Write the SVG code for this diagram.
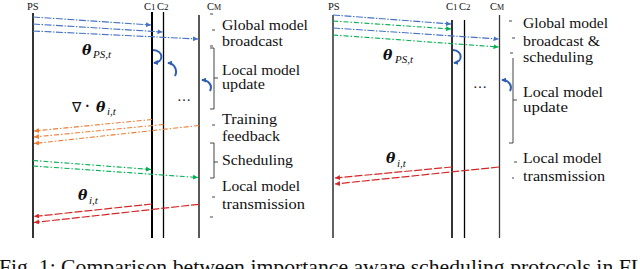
<svg xmlns="http://www.w3.org/2000/svg" width="640" height="269" viewBox="0 0 640 269">
<style>
text{font-family:"Liberation Serif","Times New Roman",serif;fill:#111}
.lbl{font-size:14px}
.hd{font-size:10.5px}
.th{font-family:"DejaVu Serif","Liberation Serif",serif;font-weight:bold;font-style:italic;font-size:14px}
.sub{font-style:italic;font-size:11px}
.life{stroke:#000;fill:none}
.lifeR{stroke:#3a3a3a;fill:none}
.tick{stroke:#444;stroke-width:1;fill:none}
.blue{stroke:#4472C4;stroke-width:1.1;fill:none;stroke-dasharray:7 1.5 1.5 1.5;marker-end:url(#mb)}
.org{stroke:#ED7D31;stroke-width:1.1;fill:none;stroke-dasharray:5 2 1.5 2;marker-end:url(#mo)}
.grn{stroke:#00B050;stroke-width:1.1;fill:none;stroke-dasharray:5 2 1.5 2;marker-end:url(#mg)}
.red{stroke:#D42828;stroke-width:1.2;fill:none;stroke-dasharray:8 2;marker-end:url(#mr)}
.loop{stroke:#2F5FB3;stroke-width:2;fill:none}
</style>
<defs>
<marker id="mb" viewBox="0 0 6 6" refX="6" refY="3" markerWidth="5" markerHeight="5" markerUnits="userSpaceOnUse" orient="auto"><path d="M0,0L6,3L0,6z" fill="#4472C4"/></marker>
<marker id="mo" viewBox="0 0 6 6" refX="6" refY="3" markerWidth="5" markerHeight="5" markerUnits="userSpaceOnUse" orient="auto"><path d="M0,0L6,3L0,6z" fill="#ED7D31"/></marker>
<marker id="mg" viewBox="0 0 6 6" refX="6" refY="3" markerWidth="5" markerHeight="5" markerUnits="userSpaceOnUse" orient="auto"><path d="M0,0L6,3L0,6z" fill="#00B050"/></marker>
<marker id="mr" viewBox="0 0 6 6" refX="6" refY="3" markerWidth="5" markerHeight="5" markerUnits="userSpaceOnUse" orient="auto"><path d="M0,0L6,3L0,6z" fill="#D42828"/></marker>
<marker id="ml" viewBox="0 0 6 6" refX="5" refY="3" markerWidth="5" markerHeight="5" markerUnits="userSpaceOnUse" orient="auto"><path d="M0,0L6,3L0,6z" fill="#2F5FB3"/></marker>
</defs>
<rect width="640" height="269" fill="#fff"/>

<!-- LEFT PANEL -->
<g id="left-PS">
<text class="hd" x="27" y="9.5">PS</text>
<line class="life" x1="33" y1="13" x2="33" y2="238" stroke-width="1.6"/>
</g>
<g id="left-C1">
<text class="hd" x="144" y="10">C<tspan font-size="9">1</tspan></text>
<line class="life" x1="152" y1="12" x2="152" y2="238" stroke-width="2"/>
</g>
<g id="left-C2">
<text class="hd" x="157" y="10">C<tspan font-size="9">2</tspan></text>
<line class="life" x1="163.5" y1="12" x2="163.5" y2="238" stroke-width="1.3"/>
</g>
<g id="left-CM">
<text class="hd" x="207" y="10">C<tspan font-size="8">M</tspan></text>
<line class="life" x1="199" y1="15" x2="199" y2="238" stroke-width="1.3"/>
<text class="lbl" x="177" y="101">…</text>
</g>
<g id="left-labels">
<path class="tick" d="M210,14h3M212,30h3M210,46h3"/>
<text class="lbl" x="222" y="30" textLength="86" lengthAdjust="spacingAndGlyphs">Global model</text>
<text class="lbl" x="222" y="46" textLength="61" lengthAdjust="spacingAndGlyphs">broadcast</text>
<path class="tick" d="M210,48h4v61h-4M214,78h4"/>
<text class="lbl" x="222" y="75" textLength="78" lengthAdjust="spacingAndGlyphs">Local model</text>
<text class="lbl" x="222" y="89" textLength="43" lengthAdjust="spacingAndGlyphs">update</text>
<path class="tick" d="M212,125h3"/>
<text class="lbl" x="222" y="124" textLength="55" lengthAdjust="spacingAndGlyphs">Training</text>
<text class="lbl" x="222" y="141" textLength="58" lengthAdjust="spacingAndGlyphs">feedback</text>
<path class="tick" d="M210,143h4v35h-4M214,162h4"/>
<text class="lbl" x="222" y="165" textLength="71" lengthAdjust="spacingAndGlyphs">Scheduling</text>
<path class="tick" d="M212,197h3M210,217h3"/>
<text class="lbl" x="222" y="191" textLength="78" lengthAdjust="spacingAndGlyphs">Local model</text>
<text class="lbl" x="222" y="209" textLength="83" lengthAdjust="spacingAndGlyphs">transmission</text>
</g>
<g id="left-math">
<text class="th" x="82" y="55">θ</text><text class="sub" x="93" y="58">PS,t</text>
<text class="lbl" x="72" y="112" font-family="DejaVu Sans, sans-serif" font-size="13">∇</text>
<text class="lbl" x="85" y="111" font-weight="bold">·</text>
<text class="th" x="96" y="112">θ</text><text class="sub" x="107" y="115">i,t</text>
<text class="th" x="78" y="200">θ</text><text class="sub" x="89" y="204">i,t</text>
</g>
<g id="left-connectors">
<line class="blue" x1="33" y1="17" x2="151" y2="25"/>
<line class="blue" x1="33" y1="24" x2="162.5" y2="32"/>
<line class="blue" x1="33" y1="31" x2="198" y2="39"/>
<path class="loop" d="M153,50C164,51 164,62 154,63" marker-end="url(#ml)"/>
<path class="loop" d="M175,76C178,70 174,63 168,63" marker-end="url(#ml)"/>
<path class="loop" d="M210,91C213,85 208,80 202,80" marker-end="url(#ml)"/>
<line class="org" x1="152" y1="119.5" x2="34" y2="131"/>
<line class="org" x1="163.5" y1="124.5" x2="34" y2="137"/>
<line class="org" x1="199" y1="125.5" x2="34" y2="143.5"/>
<line class="grn" x1="33" y1="160.5" x2="151" y2="169.5"/>
<line class="grn" x1="33" y1="166" x2="198" y2="177.5"/>
<line class="red" x1="152" y1="204" x2="34" y2="216.5"/>
<line class="red" x1="199" y1="204.3" x2="34" y2="222.5"/>
</g>

<!-- RIGHT PANEL -->
<g id="right-PS">
<text class="hd" x="328" y="10">PS</text>
<line class="lifeR" x1="333" y1="15" x2="333" y2="238" stroke-width="1.6"/>
</g>
<g id="right-C1">
<text class="hd" x="446" y="10">C<tspan font-size="9">1</tspan></text>
<line class="life" x1="452" y1="20" x2="452" y2="238" stroke-width="1.6"/>
</g>
<g id="right-C2">
<text class="hd" x="459" y="10">C<tspan font-size="9">2</tspan></text>
<line class="life" x1="464.5" y1="20" x2="464.5" y2="238" stroke-width="1.3"/>
</g>
<g id="right-CM">
<text class="hd" x="490" y="10">C<tspan font-size="8">M</tspan></text>
<line class="lifeR" x1="499.5" y1="15" x2="499.5" y2="238" stroke-width="1.3"/>
<text class="lbl" x="473" y="88">…</text>
</g>
<g id="right-labels">
<path class="tick" d="M509,21h3M512,38h3M510,53h3"/>
<text class="lbl" x="523" y="28" textLength="85" lengthAdjust="spacingAndGlyphs">Global model</text>
<text class="lbl" x="523" y="46" textLength="77" lengthAdjust="spacingAndGlyphs">broadcast &amp;</text>
<text class="lbl" x="523" y="62" textLength="70" lengthAdjust="spacingAndGlyphs">scheduling</text>
<path class="tick" d="M513,58v85h-4M513,100h4"/>
<text class="lbl" x="523" y="97" textLength="80" lengthAdjust="spacingAndGlyphs">Local model</text>
<text class="lbl" x="523" y="112" textLength="45" lengthAdjust="spacingAndGlyphs">update</text>
<path class="tick" d="M514,162h3M512,178h2"/>
<text class="lbl" x="523" y="163" textLength="79" lengthAdjust="spacingAndGlyphs">Local model</text>
<text class="lbl" x="523" y="181" textLength="82" lengthAdjust="spacingAndGlyphs">transmission</text>
</g>
<g id="right-math">
<text class="th" x="383" y="60">θ</text><text class="sub" x="395" y="63">PS,t</text>
<text class="th" x="386" y="163">θ</text><text class="sub" x="397" y="167">i,t</text>
</g>
<g id="right-connectors">
<line class="blue" x1="333" y1="15" x2="451" y2="24"/>
<line class="grn" x1="333" y1="21" x2="451" y2="29"/>
<line class="blue" x1="333" y1="28" x2="498.5" y2="39"/>
<line class="grn" x1="333" y1="35" x2="498.5" y2="47"/>
<path class="loop" d="M453,50C463,51 463,62 454,63" marker-end="url(#ml)"/>
<path class="loop" d="M510,91C513,85 508,80 502,80" marker-end="url(#ml)"/>
<line class="red" x1="452" y1="167" x2="335" y2="178"/>
<line class="red" x1="499" y1="167" x2="335" y2="184"/>
</g>

<g id="caption">
<text x="-1" y="274" font-size="21" textLength="645" lengthAdjust="spacingAndGlyphs">Fig. 1: Comparison between importance aware scheduling protocols in FL</text>
</g>
</svg>
